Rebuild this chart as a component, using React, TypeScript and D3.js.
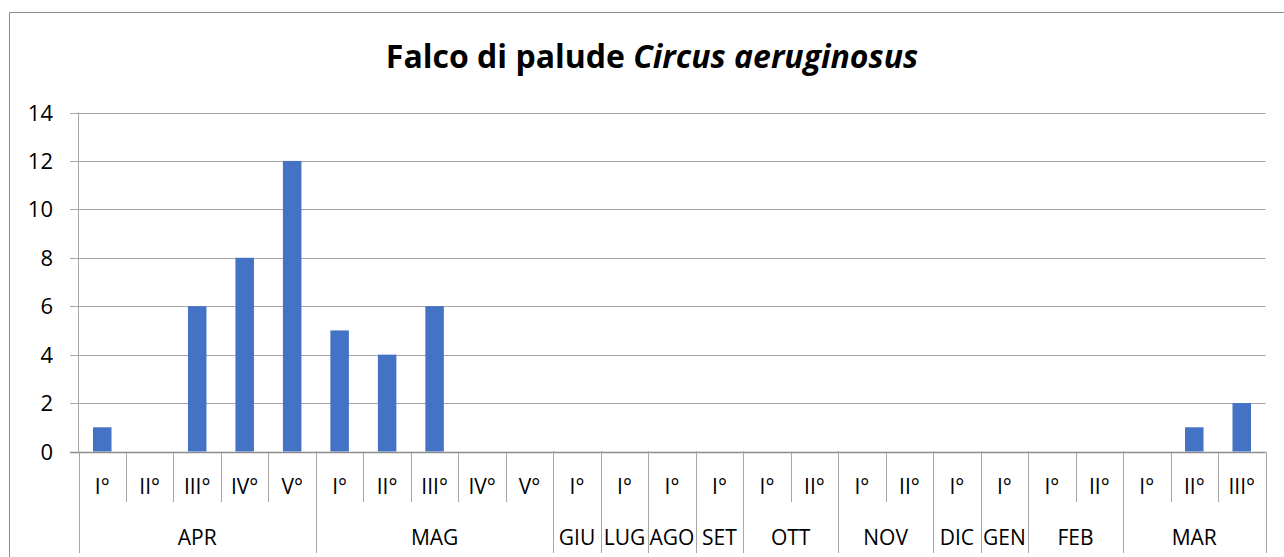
import React from "react";
import * as d3 from "d3";

const months = ["APR", "MAG", "GIU", "LUG", "AGO", "SET", "OTT", "NOV", "DIC", "GEN", "FEB", "MAR"];
const periods = [
  ["I°", "II°", "III°", "IV°", "V°"],
  ["I°", "II°", "III°", "IV°", "V°"],
  ["I°"],
  ["I°"],
  ["I°"],
  ["I°"],
  ["I°", "II°"],
  ["I°", "II°"],
  ["I°"],
  ["I°"],
  ["I°", "II°"],
  ["I°", "II°", "III°"],
];
const values = [
  [1, 0, 6, 8, 12],
  [5, 4, 6, 0, 0],
  [0],
  [0],
  [0],
  [0],
  [0, 0],
  [0, 0],
  [0],
  [0],
  [0, 0],
  [0, 1, 2],
];
const yTicks = [0, 2, 4, 6, 8, 10, 12, 14];

const W = 1284;
const H = 557;
const left = 78.5;
const right = 1265.5;
const top = 112.5;
const bottom = 451.5;
const FONT = "'Open Sans', sans-serif";

export default function App() {
  const flat: { key: string; label: string; v: number; m: number }[] = [];
  months.forEach((m, mi) => {
    periods[mi].forEach((p, pi) => {
      flat.push({ key: `${mi}-${pi}`, label: p, v: values[mi][pi], m: mi });
    });
  });
  const x = d3.scaleBand<string>().domain(flat.map((d) => d.key)).range([left, right]).paddingInner(0).paddingOuter(0);
  const y = d3.scaleLinear().domain([0, 14]).range([bottom, top]);
  const bw = x.bandwidth();
  const barW = bw * 0.39;

  const monthRanges: { name: string; x0: number; x1: number }[] = [];
  let idx = 0;
  months.forEach((m, mi) => {
    const n = periods[mi].length;
    const x0 = x(flat[idx].key)!;
    const x1 = x0 + n * bw;
    monthRanges.push({ name: m, x0, x1 });
    idx += n;
  });

  return (
    <svg width={W} height={H} style={{ position: "absolute", left: 0, top: 0 }}>
      <rect x={0} y={0} width={W} height={H} fill="#fff" />
      <path d={`M9.5,${H} V12.5 H${W}`} fill="none" stroke="#8c8c8c" strokeWidth={1} />
      <text x={652} y={68} textAnchor="middle" fontFamily={FONT} fontWeight="bold" fontSize={32} fill="#000" letterSpacing={0}>
        Falco di palude <tspan fontStyle="italic">Circus aeruginosus</tspan>
      </text>
      {yTicks.map((t) => (
        <g key={t}>
          <line x1={70} x2={right} y1={Math.round(y(t)) + 0.5} y2={Math.round(y(t)) + 0.5} stroke={t === 0 ? "#8c8c8c" : "#a6a6a6"} strokeWidth={t === 0 ? 1.5 : 1} />
          <text x={53} y={y(t) + 8} textAnchor="end" fontFamily={FONT} fontSize={22} fill="#000">
            {t}
          </text>
        </g>
      ))}
      <line x1={left} x2={left} y1={top} y2={bottom} stroke="#a6a6a6" />
      {flat.map((d) => (
        <rect key={d.key} x={x(d.key)! + (bw - barW) / 2} y={y(d.v)} width={barW} height={y(0) - y(d.v)} fill="#4472C4" />
      ))}
      {flat.map((d, i) => (
        <g key={"l" + d.key}>
          {i > 0 && <line x1={Math.round(x(d.key)!) + 0.5} x2={Math.round(x(d.key)!) + 0.5} y1={bottom} y2={502} stroke="#a6a6a6" />}
          <text x={x(d.key)! + bw / 2} y={494} textAnchor="middle" fontFamily={FONT} fontSize={21} fill="#000">
            {d.label}
          </text>
        </g>
      ))}
      {monthRanges.map((m, i) => (
        <g key={m.name}>
          <line x1={Math.round(m.x0) + 0.5} x2={Math.round(m.x0) + 0.5} y1={bottom} y2={553} stroke="#a6a6a6" />
          {i === monthRanges.length - 1 && (
            <line x1={Math.round(m.x1) + 0.5} x2={Math.round(m.x1) + 0.5} y1={bottom} y2={553} stroke="#a6a6a6" />
          )}
          <text x={(m.x0 + m.x1) / 2} y={545} textAnchor="middle" fontFamily={FONT} fontSize={21} fill="#000">
            {m.name}
          </text>
        </g>
      ))}
    </svg>
  );
}
